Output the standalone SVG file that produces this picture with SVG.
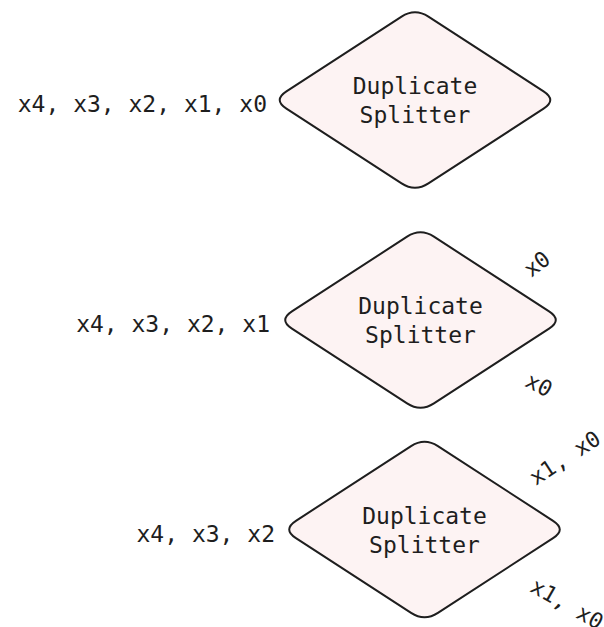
<svg xmlns="http://www.w3.org/2000/svg" xmlns:xlink="http://www.w3.org/1999/xlink" width="604" height="627" viewBox="0 0 604 627">
  <style>
    .shape { fill: #fdf3f3; stroke: #1e1e1e; stroke-width: 2; }
    .txt { font-family: "DejaVu Sans Mono", "Liberation Mono", monospace; font-size: 23px; fill: #1e1e1e; }
    .mid { text-anchor: middle; }
    .end { text-anchor: end; }
    .tag { font-family: "DejaVu Sans Mono", "Liberation Mono", monospace; font-size: 22px; fill: #1e1e1e; text-anchor: middle; dominant-baseline: central; }
  </style>
  <defs>
    <!-- rounded diamond centred on the origin -->
    <path id="diamond" d="M -128.57,-8.7 L -13.43,-83.3 Q 0,-92 13.43,-83.3 L 128.57,-8.7 Q 142,0 128.57,8.7 L 13.43,83.3 Q 0,92 -13.43,83.3 L -128.57,8.7 Q -142,0 -128.57,-8.7 Z"/>
  </defs>
  <rect width="604" height="627" fill="#ffffff"/>

  <!-- stage 1 -->
  <g id="splitter1">
    <use xlink:href="#diamond" class="shape" transform="translate(415,100)"/>
    <text class="txt mid" x="415" y="94">Duplicate</text>
    <text class="txt mid" x="415" y="123">Splitter</text>
  </g>
  <g id="input1">
    <text class="txt end" x="267" y="112">x4, x3, x2, x1, x0</text>
  </g>

  <!-- stage 2 -->
  <g id="splitter2">
    <use xlink:href="#diamond" class="shape" transform="translate(420.5,320)"/>
    <text class="txt mid" x="420.5" y="314">Duplicate</text>
    <text class="txt mid" x="420.5" y="343">Splitter</text>
  </g>
  <g id="input2">
    <text class="txt end" x="270" y="332">x4, x3, x2, x1</text>
  </g>
  <g id="out2a">
    <text class="tag" transform="translate(537,264) rotate(-38)">x0</text>
  </g>
  <g id="out2b">
    <text class="tag" transform="translate(539,385) rotate(28)">x0</text>
  </g>

  <!-- stage 3 -->
  <g id="splitter3">
    <use xlink:href="#diamond" class="shape" transform="translate(424.5,529.5)"/>
    <text class="txt mid" x="424.5" y="523.5">Duplicate</text>
    <text class="txt mid" x="424.5" y="552.5">Splitter</text>
  </g>
  <g id="input3">
    <text class="txt end" x="275" y="542">x4, x3, x2</text>
  </g>
  <g id="out3a">
    <text class="tag" transform="translate(565,458) rotate(-33)">x1, x0</text>
  </g>
  <g id="out3b">
    <text class="tag" transform="translate(567,604) rotate(30)">x1, x0</text>
  </g>
</svg>
